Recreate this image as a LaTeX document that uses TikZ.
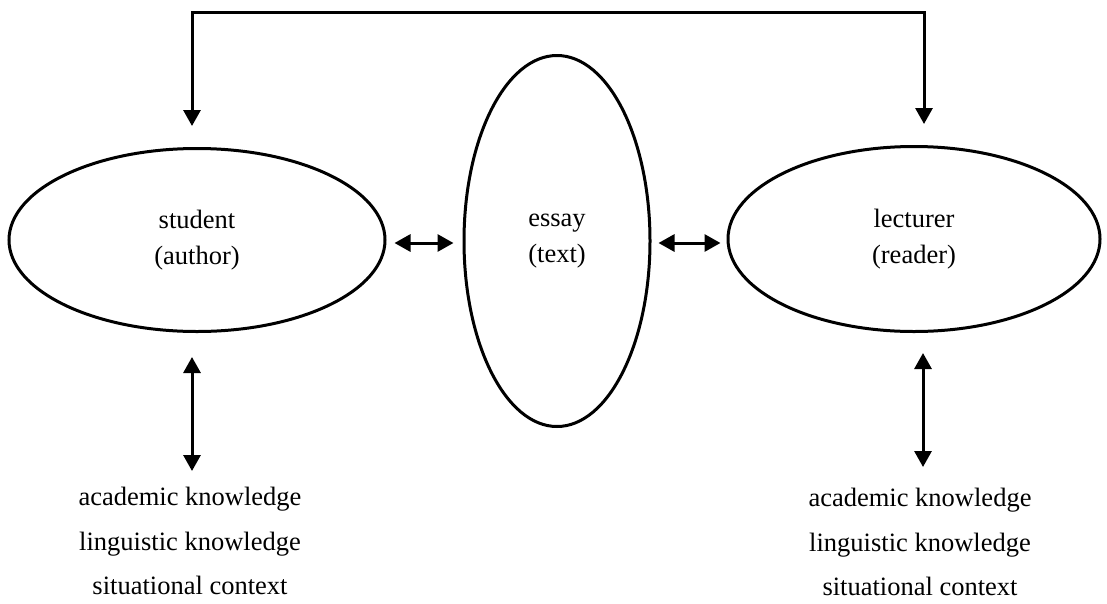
\documentclass[tikz,border=0pt]{standalone}
\usepackage{fontspec}
\setmainfont{Liberation Serif}
\usetikzlibrary{shapes.geometric,arrows.meta}
\begin{document}
\begin{tikzpicture}[x=1pt,y=-1pt,
  tip/.tip={Triangle[length=16pt,width=17pt]},
  oval/.style={ellipse,draw,line width=3pt,align=center,inner sep=0pt,
    font=\fontsize{26.5}{36}\selectfont},
  link/.style={line width=3pt,tip-tip},
  facts/.style={align=center,inner sep=0pt,font=\fontsize{26.5}{44.5}\selectfont}]
  \useasboundingbox (0,0) rectangle (1107,603);

  % participants and the text between them
  \node[oval,minimum width=376pt,minimum height=183pt] (student) at (197,240) {student\\(author)};
  \node[oval,minimum width=186pt,minimum height=371pt] (essay) at (557,241) {essay\\(text)};
  \node[oval,minimum width=372pt,minimum height=185pt] (lecturer) at (914,239) {lecturer\\(reader)};

  % knowledge brought by each side
  \node[facts] (sknow) at (190,541) {academic knowledge\\linguistic knowledge\\situational context};
  \node[facts] (lknow) at (920,542) {academic knowledge\\linguistic knowledge\\situational context};

  % ends of the feedback loop across the top
  \coordinate (ltip) at (192,126);
  \coordinate (rtip) at (924,124);
  \draw[link] (ltip) -- (192,12) -- (924,12) -- (rtip);

  % exchanges with the essay, level with its centre
  \coordinate (ew) at ([yshift=-2pt]essay.west);
  \coordinate (ee) at ([yshift=-2pt]essay.east);
  \draw[link] ([xshift=8pt]ew -| student.east) -- ([xshift=-9pt]ew);
  \draw[link] ([xshift=7pt]ee) -- ([xshift=-6pt]ee -| lecturer.west);

  % links to the knowledge lists
  \coordinate (sa) at (192,357);
  \coordinate (sb) at (192,471);
  \coordinate (la) at (923,353);
  \coordinate (lb) at (923,467);
  \draw[link] (sa) -- (sb);
  \draw[link] (la) -- (lb);
\end{tikzpicture}
\end{document}
